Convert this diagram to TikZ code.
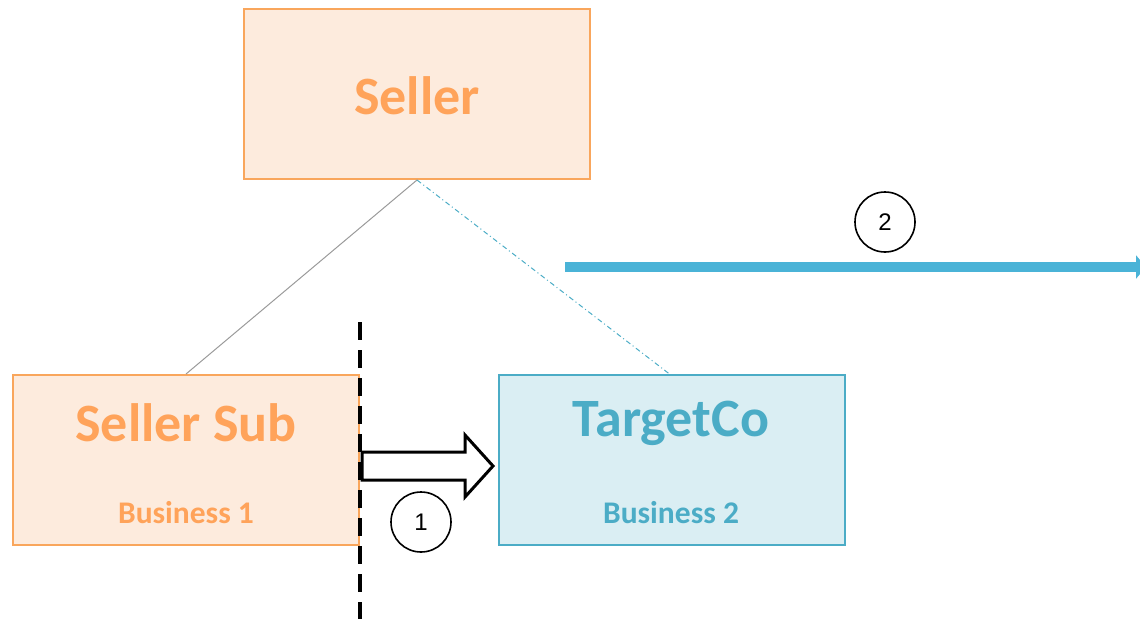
\documentclass[tikz,border=0pt]{standalone}
\usepackage{fontspec}
\setmainfont{Carlito}
\newfontfamily\numfont{Liberation Sans}
\usetikzlibrary{arrows.meta}
\definecolor{orgline}{HTML}{F9A65C}
\definecolor{orgfill}{HTML}{FDEBDD}
\definecolor{orgtext}{HTML}{FFA35A}
\definecolor{blueline}{HTML}{4BACC6}
\definecolor{bluefill}{HTML}{DAEEF3}
\definecolor{bluetext}{HTML}{4BACC6}
\definecolor{bluearrow}{HTML}{4AB3D7}
\definecolor{linkgray}{HTML}{9A9A9A}
\tikzset{
  entity/.style={draw=#1line, fill=#1fill, line width=2pt, minimum width=346pt, minimum height=170pt, inner sep=0pt},
  title/.style={text=#1text, font=\bfseries\fontsize{54}{62}\selectfont, inner sep=0pt},
  subtitle/.style={text=#1text, font=\bfseries\fontsize{31.5}{36}\selectfont, inner sep=0pt},
  stepnum/.style={draw, circle, line width=1.6pt, minimum size=60pt, inner sep=0pt, font=\numfont\fontsize{24}{28}\selectfont},
}
\begin{document}
\begin{tikzpicture}[x=1pt,y=-1pt]
\useasboundingbox (0,0) rectangle (1140,619);
\clip (0,0) rectangle (1140,619);

% entities
\node[entity=org] (seller) at (417,94) {};
\node[entity=org] (sub) at (186,460) {};
\node[entity=blue] (target) at (671.5,460) {};

\node[title=org] (sellerT) at (417,96) {Seller};
\node[title=org] (subT) at (186,423) {Seller Sub};
\node[subtitle=org] (subB) at (186,513) {Business 1};
\node[title=blue] (targetT) at (671,423) {TargetCo};
\node[subtitle=blue] (targetB) at (671,513) {Business 2};

% ownership links
\draw[linkgray, line width=1pt] (seller.south) -- (sub.north);
\draw[blueline, line width=1pt, dash pattern=on 5pt off 3pt on 1pt off 3pt] (seller.south) -- ([xshift=-2pt]target.north);

% separation line
\coordinate (cutTop) at (360,322);
\coordinate (cutBot) at (360,619);
\draw[black, line width=3.5pt, dash pattern=on 18pt off 10pt] (cutTop) -- (cutBot);

% transfer of business (block arrow)
\draw[black, line width=3pt, fill=white, line join=miter]
  (362,452) -- (465,452) -- (465,435) -- (493,466) -- (465,497) -- (465,480) -- (362,480) -- cycle;

% sale of TargetCo
\coordinate (saleStart) at (565,267);
\coordinate (saleEnd) at (1146,267);
\draw[bluearrow, line width=10pt, -{Triangle[length=10pt,width=23pt]}] (saleStart) -- (saleEnd);

% step markers
\node[stepnum] (s1) at (421,522) {1};
\node[stepnum] (s2) at (885,222) {2};
\end{tikzpicture}
\end{document}
